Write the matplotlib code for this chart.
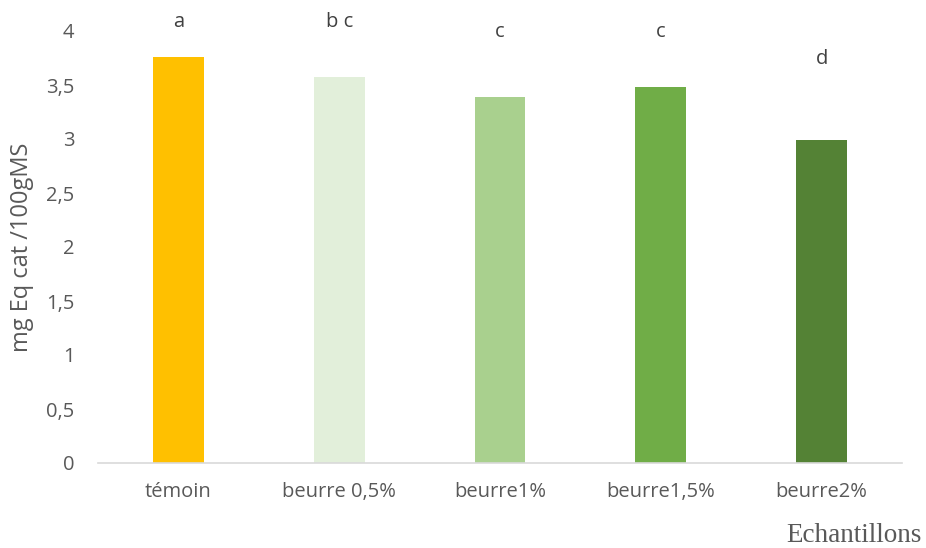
import matplotlib.pyplot as plt

samples = ['témoin', 'beurre 0,5%', 'beurre1%', 'beurre1,5%', 'beurre2%']
values = [3.76, 3.57, 3.39, 3.48, 2.99]
letters = ['a', 'b c', 'c', 'c', 'd']
letter_y = [4.08, 4.08, 3.99, 3.99, 3.74]
colors = ['#FFC000', '#E2EFDA', '#A9D08E', '#70AD47', '#548235']
yticks = [0, 0.5, 1, 1.5, 2, 2.5, 3, 3.5, 4]

plt.rcParams['font.family'] = ['Open Sans', 'DejaVu Sans']
grey = '#595959'

fig = plt.figure(figsize=(9.26, 5.48), dpi=100)
ax = fig.add_axes([98 / 926, 85 / 548, 804 / 926, 432 / 548])

x = range(len(samples))
ax.bar(x, values, width=0.317, color=colors)
for i, (lab, ly) in enumerate(zip(letters, letter_y)):
    ax.text(i, ly, lab, ha='center', va='center', fontsize=14.5, color='#404040', clip_on=False)

ax.set_xlim(-0.5, len(samples) - 0.5)
ax.set_ylim(0, 4)
ax.set_xticks(list(x))
ax.set_xticklabels(samples)
ax.set_yticks(yticks)
ax.set_yticklabels([('%g' % t).replace('.', ',') for t in yticks])
ax.tick_params(axis='both', length=0, labelsize=14.5, labelcolor=grey)
ax.tick_params(axis='x', pad=14)
ax.tick_params(axis='y', pad=17)

for s in ['top', 'right', 'left']:
    ax.spines[s].set_visible(False)
ax.spines['bottom'].set_color('#D9D9D9')
ax.spines['bottom'].set_linewidth(1.2)

ax.set_ylabel('mg Eq cat /100gMS', fontsize=17, color=grey)
ax.yaxis.set_label_coords(-64 / 804, 0.5)
fig.text(922 / 926, 13 / 548, 'Echantillons', ha='right', va='center',
         fontsize=19.5, color=grey, family='Liberation Serif')

fig.savefig('out.png', dpi=100)
